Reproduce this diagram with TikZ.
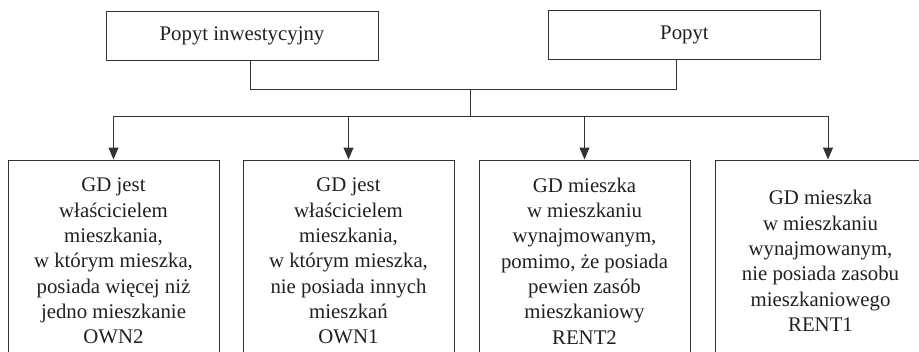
\documentclass[tikz,border=0pt]{standalone}
\usepackage{fontspec}
\setmainfont{Liberation Serif}
\usetikzlibrary{arrows.meta,positioning}
\definecolor{ChartInk}{HTML}{231F20}
\definecolor{ChartLine}{HTML}{333333}

\begin{document}
\begin{tikzpicture}[x=1pt,y=-1pt,
  every node/.style={align=center, text=ChartInk, font=\fontsize{20.8}{25.3}\selectfont},
  topbox/.style={draw=ChartLine, line width=1pt, minimum width=272pt, minimum height=49pt, inner sep=0pt},
  kindbox/.style={draw=ChartLine, line width=1pt, minimum width=211pt, minimum height=202pt, inner sep=0pt},
  link/.style={draw=ChartLine, line width=1pt},
  arrowlink/.style={link, -{Triangle[length=12pt,width=10pt]}}]
  \useasboundingbox (0,0) rectangle (919,351);
  \clip (0,0) rectangle (919,351);
  % demand sources
  \node[topbox] (inv) at (242,35.5) {Popyt inwestycyjny};
  \node[topbox] (dem) at (684.5,34.5) {Popyt};
  % household types
  \node[kindbox] (own2) at (113.5,261)
    {GD jest\\właścicielem\\mieszkania,\\w którym mieszka,\\posiada więcej niż\\jedno mieszkanie\\OWN2};
  \node[kindbox] (own1) at (348.5,261)
    {GD jest\\właścicielem\\mieszkania,\\w którym mieszka,\\nie posiada innych\\mieszkań\\OWN1};
  \node[kindbox] (rent2) at (584.5,261)
    {GD mieszka\\w mieszkaniu\\wynajmowanym,\\pomimo, że posiada\\pewien zasób\\mieszkaniowy\\RENT2};
  \node[kindbox] (rent1) at (820.5,261)
    {GD mieszka\\w mieszkaniu\\wynajmowanym,\\nie posiada zasobu\\mieszkaniowego\\RENT1};
  \coordinate (merge) at (470,89);
  \coordinate (split) at (470,116);
  \draw[link] ([xshift=8pt]inv.south) |- (merge);
  \draw[link] ([xshift=-8.5pt]dem.south) |- (merge);
  \draw[link] (merge) -- (split);
  \draw[arrowlink] (split) -| (own2.north);
  \draw[arrowlink] (split) -| (own1.north);
  \draw[arrowlink] (split) -| (rent2.north);
  \draw[arrowlink] (split) -| ([xshift=7.5pt]rent1.north);
\end{tikzpicture}
\end{document}
